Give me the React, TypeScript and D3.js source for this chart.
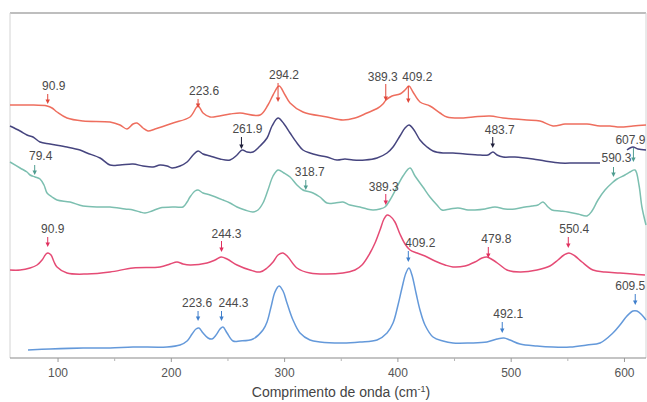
import React from "react";
import * as d3 from "d3";

const WIDTH = 647;
const HEIGHT = 402;

// x axis (wavenumber, cm-1)
const xDomain: [number, number] = [57.6, 619.0];
const majorTicks = [100, 200, 300, 400, 500, 600];
const minorTicks = [150, 250, 350, 450, 550];

// Series 1 (salmon, top)
const s1Wave = [57.6, 75.3, 90.3, 94.7, 99.1, 107.9, 122.1, 145.9, 154.7, 160.9, 166.2, 169.7, 175.0, 179.4, 185.6, 201.5, 216.5, 223.6, 228.0, 234.2, 251.8, 260.6, 278.3, 285.3, 289.8, 295.1, 300.4, 304.8, 316.2, 337.4, 351.5, 362.1, 372.7, 382.4, 386.8, 389.5, 394.8, 401.8, 406.3, 409.8, 413.3, 419.5, 428.3, 437.2, 443.3, 454.8, 466.3, 481.3, 492.8, 503.3, 513.9, 525.4, 536.9, 547.5, 556.3, 566.9, 578.4, 587.2, 596.0, 607.5, 619.0];
const s1Int = [253, 253, 252, 250, 246, 240, 237, 236, 233, 229, 234, 235, 230, 227, 229, 235, 241, 252, 245, 241, 244, 245, 243, 253, 263, 272, 263, 255, 246, 241, 238, 240, 245, 250, 254, 258, 262, 264, 268, 272, 266, 256, 252, 245, 241, 240, 241, 242, 240, 239, 238, 237, 232, 234, 234, 234, 232, 232, 231, 232, 233];

// Series 2 (navy) – gap before the last short segment
const s2Wave = [57.6, 66.5, 72.6, 77.9, 84.1, 92.9, 107.9, 119.4, 125.6, 137.1, 145.9, 154.7, 166.2, 175.0, 183.8, 190.0, 196.2, 200.6, 207.7, 213.9, 219.2, 223.6, 228.0, 234.2, 243.0, 251.8, 258.0, 262.4, 266.8, 272.1, 278.3, 284.5, 288.9, 294.2, 299.5, 304.8, 310.9, 316.2, 322.4, 328.6, 337.4, 346.2, 353.3, 360.4, 371.0, 381.6, 390.4, 395.7, 401.8, 406.3, 409.8, 414.2, 419.5, 425.7, 431.0, 439.8, 448.6, 459.2, 472.5, 479.5, 483.9, 487.5, 492.8, 503.3, 519.2, 529.8, 543.1, 556.3, 569.5, 578.4, 590.0, 602.2, 604.9, 607.5, 611.9, 619.0];
const s2Int: (number | null)[] = [232, 227, 223, 221, 216, 214, 211, 208, 205, 200, 193, 193, 194, 192, 191, 193, 192, 190, 192, 196, 203, 207, 204, 202, 199, 198, 203, 208, 206, 206, 212, 220, 232, 240, 234, 225, 215, 208, 205, 203, 201, 198, 199, 198, 198, 200, 205, 211, 222, 230, 233, 228, 218, 211, 207, 205, 205, 204, 203, 203, 206, 203, 201, 201, 199, 197, 195, 195, 195, 195, null, 208, 210, 211, 209, 208];

// Series 3 (teal)
const s3Wave = [57.6, 66.5, 72.6, 75.3, 79.7, 84.1, 87.6, 90.3, 94.7, 99.1, 110.6, 122.1, 137.1, 145.9, 159.1, 166.2, 172.4, 176.8, 183.0, 190.0, 203.3, 210.3, 213.9, 216.5, 220.9, 223.6, 228.0, 234.2, 245.6, 251.8, 258.0, 265.0, 272.1, 276.5, 280.9, 285.3, 289.8, 294.2, 299.5, 304.8, 310.9, 316.2, 318.9, 325.1, 331.2, 337.4, 344.5, 351.5, 357.7, 366.5, 372.7, 378.0, 384.2, 388.6, 393.0, 399.2, 404.5, 410.7, 415.1, 422.1, 428.3, 434.5, 438.9, 446.0, 453.0, 461.9, 468.0, 476.9, 485.7, 494.5, 503.3, 512.2, 518.4, 523.6, 528.1, 532.5, 536.0, 543.1, 550.1, 559.0, 566.9, 571.3, 576.6, 582.8, 589.0, 593.4, 600.4, 604.9, 609.3, 612.8, 615.4, 619.0];
const s3Int = [196, 190, 186, 183, 181, 179, 173, 165, 161, 158, 156, 152, 151, 151, 149, 148, 146, 145, 147, 150, 151, 151, 156, 161, 167, 168, 165, 163, 158, 155, 151, 148, 146, 148, 155, 168, 182, 188, 185, 181, 173, 168, 167, 165, 161, 155, 155, 156, 153, 151, 149, 148, 149, 151, 158, 171, 182, 190, 182, 171, 161, 153, 148, 149, 150, 148, 148, 149, 151, 149, 149, 151, 152, 153, 156, 151, 148, 147, 146, 144, 142, 147, 158, 168, 175, 179, 183, 186, 188, 173, 151, 133];

// Series 4 (crimson)
const s4Wave = [57.6, 66.5, 75.3, 81.5, 85.9, 89.4, 91.2, 93.8, 96.5, 99.1, 107.9, 125.6, 145.9, 166.2, 190.0, 198.9, 205.0, 210.3, 216.5, 231.5, 238.6, 243.9, 249.2, 258.0, 269.5, 278.3, 284.5, 289.8, 294.2, 298.6, 303.0, 310.9, 322.4, 351.5, 362.1, 368.3, 375.4, 379.8, 384.2, 387.7, 390.4, 393.0, 397.4, 401.8, 406.3, 410.7, 416.9, 423.9, 432.7, 441.6, 448.6, 459.2, 468.0, 474.2, 478.6, 483.9, 490.1, 496.3, 507.8, 522.8, 534.2, 541.3, 546.6, 551.0, 556.3, 562.5, 572.2, 582.8, 596.0, 607.5, 618.1];
const s4Int = [88, 88, 90, 93, 98, 104, 105, 103, 96, 91, 85, 84, 86, 90, 91, 94, 96, 94, 93, 95, 98, 101, 99, 93, 88, 86, 90, 96, 103, 105, 101, 90, 85, 85, 88, 93, 105, 115, 128, 139, 143, 142, 136, 124, 114, 108, 105, 102, 97, 93, 91, 92, 96, 100, 101, 98, 93, 88, 86, 88, 92, 98, 103, 105, 102, 96, 88, 86, 85, 84, 83];

// Series 5 (blue, bottom)
const s5Wave = [73.5, 92.9, 122.1, 145.9, 166.2, 196.2, 207.7, 213.9, 218.3, 221.8, 224.4, 228.0, 232.4, 235.9, 239.5, 243.0, 245.6, 249.2, 254.5, 260.6, 272.1, 280.9, 284.5, 288.0, 291.5, 295.1, 298.6, 302.1, 307.4, 313.6, 322.4, 331.2, 351.5, 366.5, 381.6, 390.4, 395.7, 400.1, 403.6, 407.1, 409.8, 412.4, 416.0, 419.5, 423.9, 431.0, 439.8, 448.6, 463.6, 478.6, 487.5, 493.6, 498.9, 507.8, 522.8, 536.9, 551.9, 566.9, 578.4, 589.8, 596.0, 602.2, 607.5, 611.0, 615.4, 619.0];
const s5Int = [8, 9, 10, 10, 11, 11, 13, 17, 24, 29, 30, 25, 20, 19, 23, 29, 31, 25, 17, 17, 19, 28, 36, 51, 66, 72, 67, 55, 38, 25, 18, 16, 15, 16, 18, 25, 35, 53, 70, 85, 90, 83, 65, 48, 33, 21, 17, 15, 15, 16, 19, 20, 18, 14, 12, 11, 11, 13, 15, 25, 33, 42, 47, 47, 43, 38];

const seriesWave = [s1Wave, s2Wave, s3Wave, s4Wave, s5Wave];
const seriesInt = [s1Int, s2Int, s3Int, s4Int, s5Int];
const seriesColor = ["#ee6e5e", "#46457f", "#7cbfb0", "#e54b75", "#6499da"];
const arrowColor = ["#e0473a", "#1f1f3a", "#4f9d90", "#e0305e", "#3f7fcc"];

// Peak annotations
const labelText = ["90.9", "223.6", "294.2", "389.3", "409.2", "261.9", "483.7", "607.9", "79.4", "318.7", "590.3", "389.3", "90.9", "244.3", "479.8", "550.4", "409.2", "223.6", "244.3", "492.1", "609.5"];
const labelWave = [90.9, 223.6, 294.2, 389.3, 409.2, 261.9, 483.7, 607.9, 79.4, 318.7, 590.3, 389.3, 90.9, 244.3, 479.8, 550.4, 409.2, 223.6, 244.3, 492.1, 609.5];
const labelSeries = [0, 0, 0, 0, 0, 1, 1, 2, 2, 2, 2, 3, 3, 3, 3, 3, 4, 4, 4, 4, 4];
// layout for annotations (intensity units / px offsets)
const labelTextY = [268, 263, 279, 277, 277, 225, 224, 214, 198, 182, 196, 167, 125, 120, 115, 125, 111, 51, 51, 40, 68];
const labelArrowTop = [264, 259, 275, 274, 272, 221, 221, 210, 193, 178, 191, 164, 121, 117, 111, 121, 107, 47, 47, 36, 64];
const labelArrowTip = [254, 250, 256, 257, 255, 209, 210, 196, 183, 168, 181, 153, 111, 106, 100, 110, 96, 37, 37, 25, 53];
const labelDx = [6, 6, 6, -3, 9, 6, 7, -3, 6, 4, 3, -2, 5, 5, 8, 6, 12, -1, 12, 6, -5];

export default function App() {
  const x = d3.scaleLinear().domain(xDomain).range([10, 646]);
  const y = d3.scaleLinear().domain([0, 345]).range([358, 13]);

  const line = d3
    .line<[number, number | null]>()
    .defined((d) => d[1] != null)
    .x((d) => x(d[0]))
    .y((d) => y(d[1] as number))
    .curve(d3.curveCatmullRom.alpha(0.5));

  const font = "'Liberation Sans', Arial, sans-serif";

  return (
    <svg
      width={WIDTH}
      height={HEIGHT}
      style={{ position: "absolute", left: 0, top: 0, background: "#fff" }}
    >
      {/* frame */}
      <line x1={10} x2={646} y1={13} y2={13} stroke="#a9a9a9" strokeWidth={1.6} />
      <line x1={10} x2={10} y1={13} y2={358} stroke="#d4d4d4" strokeWidth={1} />
      <line x1={646} x2={646} y1={13} y2={358} stroke="#d4d4d4" strokeWidth={1} />
      <line x1={10} x2={646} y1={358} y2={358} stroke="#8a8a8a" strokeWidth={1.2} />

      {/* ticks */}
      {majorTicks.map((t) => (
        <g key={"M" + t}>
          <line x1={x(t)} x2={x(t)} y1={358} y2={362} stroke="#9a9a9a" />
          <text
            x={x(t)}
            y={377}
            textAnchor="middle"
            fontFamily={font}
            fontSize={12}
            fill="#555"
          >
            {t}
          </text>
        </g>
      ))}
      {minorTicks.map((t) => (
        <line key={"m" + t} x1={x(t)} x2={x(t)} y1={358} y2={361} stroke="#b5b5b5" />
      ))}

      {/* axis title */}
      <text x={341} y={397} textAnchor="middle" fontFamily={font} fontSize={14} fill="#444">
        Comprimento de onda (cm
        <tspan fontSize={9} dy={-5}>-1</tspan>
        <tspan dy={5}>)</tspan>
      </text>

      {/* spectra */}
      {seriesWave.map((w, i) => {
        const pts: [number, number | null][] = w.map((v, j) => [v, seriesInt[i][j]]);
        return (
          <path
            key={"s" + i}
            d={line(pts) || ""}
            fill="none"
            stroke={seriesColor[i]}
            strokeWidth={1.5}
            strokeLinejoin="round"
          />
        );
      })}

      {/* annotations */}
      {labelText.map((t, i) => {
        const ax = x(labelWave[i]);
        const yTop = y(labelArrowTop[i]);
        const yTip = y(labelArrowTip[i]);
        const c = arrowColor[labelSeries[i]];
        return (
          <g key={"a" + i}>
            <line x1={ax} x2={ax} y1={yTop} y2={yTip - 3} stroke={c} strokeWidth={1} />
            <path
              d={`M${ax - 2.2},${yTip - 4.5} L${ax + 2.2},${yTip - 4.5} L${ax},${yTip} Z`}
              fill={c}
            />
            <text
              x={ax + labelDx[i]}
              y={y(labelTextY[i])}
              textAnchor="middle"
              fontFamily={font}
              fontSize={12}
              fill="#4a4a4a"
            >
              {t}
            </text>
          </g>
        );
      })}
    </svg>
  );
}
